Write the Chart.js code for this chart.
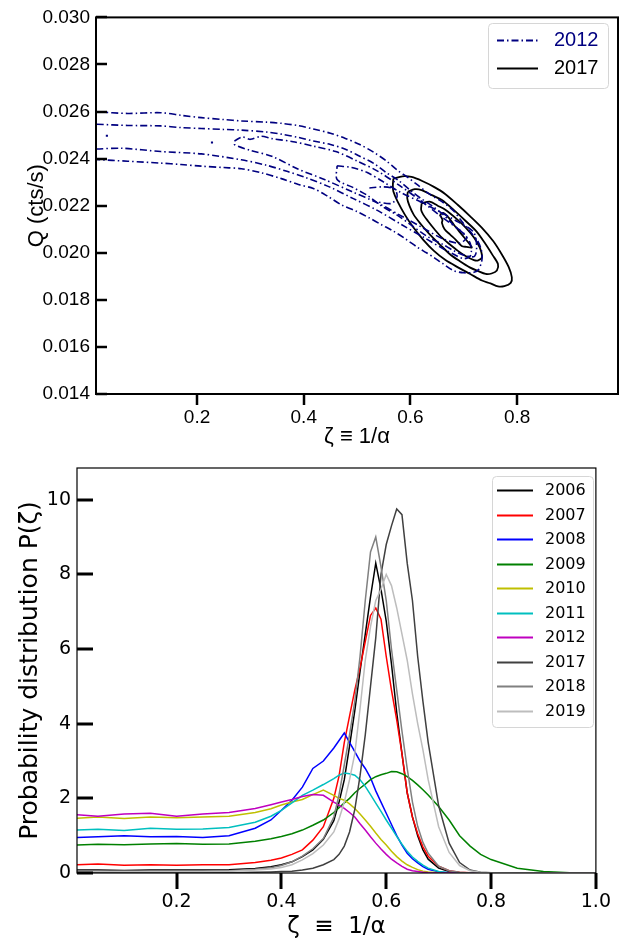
<!DOCTYPE html>
<html>
<head>
<meta charset="utf-8">
<script src="https://cdn.jsdelivr.net/npm/chart.js@4/dist/chart.umd.min.js"></script>
<style>
  body { margin: 0; background: #fff; }
  canvas { display: block; }
</style>
</head>
<body>
<canvas id="contourChart" width="629" height="450"></canvas>
<canvas id="histChart" width="629" height="490"></canvas>
<script>
// ---------- top panel: contours (zeta, Q) ----------
const topXTicks = [0.2, 0.4, 0.6, 0.8];
const topYTicks = [0.014, 0.016, 0.018, 0.020, 0.022, 0.024, 0.026, 0.028, 0.030];

// 2012 contours (dash-dot)
const c2012_lvl1 = [[0.012,0.02599],[0.07,0.02592],[0.132,0.02595],[0.17,0.02584],[0.208,0.02574],[0.25,0.02566],[0.283,0.0256],[0.33,0.02555],[0.358,0.0255],[0.39,0.0254],[0.418,0.02526],[0.45,0.02508],[0.478,0.02486],[0.505,0.0246],[0.531,0.02427],[0.555,0.0239],[0.576,0.0235],[0.595,0.0232],[0.614,0.02287],[0.635,0.0225],[0.659,0.02217],[0.68,0.0218],[0.696,0.02134],[0.712,0.0209],[0.726,0.0205],[0.733,0.0201],[0.734,0.0197],[0.728,0.0193],[0.719,0.01917],[0.70,0.01915],[0.681,0.01924],[0.66,0.01955],[0.644,0.0198],[0.63,0.02],[0.614,0.02022],[0.59,0.0206],[0.568,0.02092],[0.545,0.0212],[0.523,0.02148],[0.50,0.02175],[0.471,0.02203],[0.445,0.0224],[0.418,0.02273],[0.39,0.0229],[0.358,0.02315],[0.32,0.0234],[0.283,0.02357],[0.25,0.02362],[0.208,0.02368],[0.17,0.02375],[0.132,0.02381],[0.07,0.02389],[0.012,0.02396]];
const c2012_lvl2 = [[0.012,0.02546],[0.07,0.02541],[0.132,0.02539],[0.17,0.02532],[0.208,0.02528],[0.25,0.02524],[0.283,0.02521],[0.33,0.02513],[0.358,0.02504],[0.39,0.0249],[0.418,0.02475],[0.45,0.0246],[0.478,0.0244],[0.505,0.0241],[0.531,0.0238],[0.555,0.0234],[0.576,0.0231],[0.60,0.02265],[0.62,0.0223],[0.64,0.022],[0.66,0.02165],[0.68,0.0212],[0.70,0.0208],[0.712,0.0204],[0.713,0.0199],[0.70,0.01975],[0.68,0.01995],[0.659,0.0202],[0.629,0.0206],[0.583,0.0212],[0.538,0.0218],[0.493,0.0223],[0.448,0.0228],[0.403,0.0232],[0.37,0.02345],[0.33,0.02372],[0.283,0.02395],[0.208,0.0242],[0.132,0.0243],[0.06,0.02444],[0.012,0.02441]];
const c2012_lvl3 = [[0.27,0.02475],[0.285,0.02492],[0.30,0.02482],[0.32,0.02495],[0.34,0.02485],[0.38,0.02472],[0.42,0.02452],[0.46,0.0243],[0.50,0.0239],[0.54,0.02345],[0.58,0.02285],[0.62,0.0222],[0.66,0.0215],[0.69,0.021],[0.705,0.0207],[0.70,0.0205],[0.69,0.0204],[0.66,0.0206],[0.62,0.0211],[0.58,0.0216],[0.54,0.0221],[0.49,0.0226],[0.44,0.0231],[0.39,0.02355],[0.34,0.0241],[0.30,0.02435],[0.27,0.0246],[0.27,0.02475]];
const c2012_lvl4 = [[0.4625,0.0237],[0.49,0.02362],[0.519,0.02341],[0.55,0.023],[0.581,0.02257],[0.62,0.02215],[0.656,0.02173],[0.69,0.0213],[0.718,0.02089],[0.724,0.0203],[0.72,0.01985],[0.70,0.0199],[0.68,0.0201],[0.661,0.02035],[0.631,0.0207],[0.60,0.0212],[0.575,0.0216],[0.545,0.022],[0.519,0.02244],[0.49,0.0228],[0.4625,0.02311],[0.4625,0.0237]];
const c2012_blob = [[0.523,0.02275],[0.55,0.0228],[0.57,0.0227],[0.575,0.0224],[0.565,0.0221],[0.54,0.02215]];
const c2012_dotA = [[0.029,0.02497],[0.033,0.02497]];
const c2012_dotB = [[0.226,0.02469],[0.230,0.02469]];

// 2017 contours (solid)
const c2017_lvl1 = [[0.568,0.02315],[0.585,0.02325],[0.602,0.02322],[0.622,0.02305],[0.644,0.0228],[0.665,0.0225],[0.689,0.02203],[0.712,0.02155],[0.734,0.02106],[0.755,0.0205],[0.771,0.01994],[0.784,0.0194],[0.790,0.01896],[0.788,0.01872],[0.776,0.01858],[0.764,0.01857],[0.750,0.0187],[0.734,0.01882],[0.712,0.0191],[0.689,0.01938],[0.665,0.0197],[0.644,0.02008],[0.624,0.02055],[0.606,0.02106],[0.590,0.0216],[0.576,0.02217],[0.568,0.0226],[0.567,0.02287],[0.568,0.02315]];
const c2017_lvl2 = [[0.595,0.02259],[0.608,0.0227],[0.621,0.02266],[0.64,0.02245],[0.659,0.02224],[0.682,0.0218],[0.704,0.02134],[0.724,0.0209],[0.741,0.02036],[0.754,0.0199],[0.764,0.01952],[0.762,0.01925],[0.752,0.01912],[0.741,0.0191],[0.727,0.01922],[0.711,0.01938],[0.692,0.01965],[0.674,0.01994],[0.655,0.02035],[0.636,0.02078],[0.62,0.0212],[0.606,0.02162],[0.598,0.022],[0.594,0.02231],[0.595,0.02259]];
const c2017_lvl3 = [[0.621,0.0221],[0.636,0.02217],[0.651,0.022],[0.666,0.02182],[0.686,0.02145],[0.704,0.02106],[0.719,0.02065],[0.730,0.02022],[0.734,0.0198],[0.727,0.01968],[0.719,0.01969],[0.704,0.01985],[0.689,0.02008],[0.674,0.02035],[0.659,0.02064],[0.645,0.021],[0.633,0.02134],[0.624,0.02162],[0.620,0.02182],[0.621,0.0221]];
const c2017_lvl4 = [[0.655,0.02162],[0.662,0.02169],[0.672,0.02148],[0.681,0.0212],[0.696,0.02078],[0.711,0.02036],[0.715,0.02022],[0.705,0.02025],[0.696,0.02029],[0.685,0.02055],[0.674,0.02078],[0.664,0.021],[0.659,0.02127],[0.66,0.0214],[0.655,0.02162]];

// ---------- bottom panel: P(zeta) ----------
const zeta = [0.01,0.05,0.10,0.15,0.20,0.25,0.30,0.35,0.38,0.40,0.42,0.44,0.46,0.48,0.50,0.51,0.52,0.53,0.54,0.55,0.56,0.57,0.58,0.59,0.60,0.61,0.62,0.63,0.64,0.65,0.66,0.67,0.68,0.70,0.72,0.74,0.76,0.78,0.80,0.85,0.90,0.95,1.00];
const years = ['2006','2007','2008','2009','2010','2011','2012','2017','2018','2019'];
const p2006 = [0.08,0.08,0.07,0.08,0.08,0.08,0.09,0.12,0.17,0.22,0.30,0.44,0.62,0.90,1.40,1.90,2.50,3.40,4.35,5.40,6.40,7.40,8.30,7.60,6.75,5.60,4.30,3.20,2.15,1.50,1.00,0.62,0.37,0.13,0.04,0.01,0,0,0,0,0,0,0];
const p2007 = [0.22,0.24,0.21,0.22,0.21,0.22,0.22,0.28,0.34,0.40,0.50,0.62,0.88,1.24,2.00,2.60,3.50,4.20,4.90,5.50,6.20,6.90,7.10,6.80,5.80,4.90,4.10,3.20,2.15,1.50,1.05,0.70,0.45,0.18,0.06,0.02,0.01,0,0,0,0,0,0];
const p2008 = [0.95,0.97,1.00,0.97,0.98,0.95,1.00,1.20,1.42,1.68,1.95,2.30,2.80,3.00,3.35,3.55,3.75,3.50,3.25,3.00,2.80,2.55,2.20,1.90,1.60,1.30,1.00,0.75,0.53,0.38,0.27,0.17,0.10,0.03,0.01,0,0,0,0,0,0,0,0];
const p2009 = [0.75,0.77,0.76,0.78,0.79,0.77,0.78,0.85,0.92,0.98,1.05,1.15,1.28,1.42,1.62,1.75,1.88,2.00,2.15,2.27,2.38,2.50,2.58,2.63,2.67,2.72,2.71,2.66,2.58,2.48,2.36,2.23,2.09,1.78,1.42,1.00,0.72,0.50,0.36,0.13,0.04,0.01,0];
const p2010 = [1.47,1.50,1.46,1.50,1.48,1.50,1.52,1.62,1.72,1.82,1.90,1.97,2.10,2.22,2.08,2.00,1.95,1.85,1.73,1.58,1.42,1.25,1.07,0.90,0.75,0.58,0.44,0.32,0.22,0.15,0.09,0.05,0.03,0.01,0,0,0,0,0,0,0,0,0];
const p2011 = [1.15,1.17,1.14,1.20,1.17,1.18,1.22,1.36,1.52,1.68,1.88,2.08,2.22,2.37,2.53,2.62,2.68,2.66,2.62,2.50,2.32,2.10,1.87,1.65,1.42,1.20,0.98,0.77,0.58,0.43,0.31,0.21,0.13,0.04,0.01,0,0,0,0,0,0,0,0];
const p2012 = [1.56,1.52,1.58,1.60,1.52,1.58,1.62,1.73,1.83,1.90,1.97,2.05,2.10,2.08,1.90,1.82,1.73,1.62,1.50,1.32,1.15,0.97,0.80,0.64,0.50,0.37,0.27,0.18,0.10,0.06,0.04,0.02,0.01,0,0,0,0,0,0,0,0,0,0];
const p2017 = [0.01,0.01,0.01,0.01,0.01,0.01,0.01,0.02,0.03,0.04,0.05,0.08,0.13,0.22,0.36,0.50,0.72,1.10,1.70,2.60,3.70,5.00,6.30,8.00,8.80,9.30,9.75,9.60,8.30,7.30,5.80,4.60,3.50,1.80,0.80,0.28,0.08,0.02,0.01,0,0,0,0];
const p2018 = [0.05,0.05,0.05,0.05,0.05,0.05,0.06,0.10,0.14,0.20,0.30,0.45,0.65,0.92,1.50,2.10,2.90,3.70,4.60,5.80,7.30,8.60,9.00,8.20,7.30,6.00,4.90,3.80,2.80,1.90,1.25,0.82,0.53,0.18,0.06,0.02,0,0,0,0,0,0,0];
const p2019 = [0.04,0.04,0.04,0.04,0.04,0.04,0.05,0.08,0.11,0.15,0.22,0.35,0.52,0.75,1.10,1.45,1.90,2.50,3.20,4.40,5.70,6.60,7.30,7.60,8.00,7.70,7.10,6.40,5.70,4.80,4.00,3.30,2.50,1.24,0.55,0.20,0.06,0.02,0.01,0,0,0,0];
const botXTicks = [0.2, 0.4, 0.6, 0.8, 1.0];
const botYTicks = [0, 2, 4, 6, 8, 10];

// ---------- plugins ----------
// matplotlib-like frame + tick marks (positive length = outward)
const frameTicks = {
  id: 'frameTicks',
  afterDatasetsDraw(chart, args, o) {
    const { ctx, chartArea: a } = chart;
    const xs = chart.scales.x, ys = chart.scales.y;
    ctx.save();
    ctx.strokeStyle = '#000';
    ctx.lineWidth = o.frameWidth;
    ctx.strokeRect(a.left, a.top, a.right - a.left, a.bottom - a.top);
    ctx.lineWidth = o.tickWidth;
    xs.ticks.forEach(t => {
      const px = Math.round(xs.getPixelForValue(t.value));
      ctx.beginPath();
      ctx.moveTo(px, a.bottom);
      ctx.lineTo(px, a.bottom + o.xTickLen);
      ctx.stroke();
    });
    ys.ticks.forEach(t => {
      const py = Math.round(ys.getPixelForValue(t.value));
      ctx.beginPath();
      ctx.moveTo(a.left, py);
      ctx.lineTo(a.left - o.yTickLen, py);
      ctx.stroke();
    });
    ctx.restore();
  }
};

// legend box drawn inside the plot
const boxLegend = {
  id: 'boxLegend',
  afterDraw(chart, args, o) {
    const ctx = chart.ctx;
    ctx.save();
    ctx.fillStyle = 'rgba(255,255,255,0.85)';
    ctx.strokeStyle = '#d6d6d6';
    ctx.lineWidth = 1;
    ctx.beginPath();
    ctx.roundRect(o.x + 0.5, o.y + 0.5, o.w, o.h, 4);
    ctx.fill();
    ctx.stroke();
    ctx.font = o.font;
    ctx.textBaseline = 'middle';
    let row = 0;
    chart.data.datasets.forEach(ds => {
      if (!ds.label) return;
      const y = Math.round(o.y + o.first + row * o.step) + 0.5;
      ctx.strokeStyle = ds.borderColor;
      ctx.lineWidth = o.lineWidth;
      ctx.setLineDash(ds.borderDash || []);
      ctx.beginPath();
      ctx.moveTo(o.x + o.lineX0, y);
      ctx.lineTo(o.x + o.lineX1, y);
      ctx.stroke();
      ctx.setLineDash([]);
      ctx.fillStyle = o.colorText ? ds.borderColor : '#000';
      ctx.fillText(ds.label, o.x + o.textX, y);
      row++;
    });
    ctx.restore();
  }
};

// ---------- top chart ----------
const navy = '#000080';
const dashDot = [7, 3, 1.5, 3];
function contour(points, color, label, dash, width) {
  return {
    label: label,
    data: points.map(p => ({ x: p[0], y: p[1] })),
    showLine: true,
    borderColor: color,
    borderWidth: width,
    borderDash: dash,
    pointRadius: 0,
    tension: 0.3,
    fill: false
  };
}

new Chart(document.getElementById('contourChart'), {
  type: 'scatter',
  data: {
    datasets: [
      contour(c2012_lvl1, navy, '2012', dashDot, 1.6),
      contour(c2012_lvl2, navy, '', dashDot, 1.6),
      contour(c2012_lvl3, navy, '', dashDot, 1.6),
      contour(c2012_lvl4, navy, '', dashDot, 1.6),
      contour(c2012_blob, navy, '', dashDot, 1.6),
      contour(c2012_dotA, navy, '', [], 2),
      contour(c2012_dotB, navy, '', [], 2),
      contour(c2017_lvl1, '#000', '2017', [], 1.8),
      contour(c2017_lvl2, '#000', '', [], 1.8),
      contour(c2017_lvl3, '#000', '', [], 1.8),
      contour(c2017_lvl4, '#000', '', [], 1.8)
    ]
  },
  options: {
    responsive: false,
    animation: false,
    layout: { padding: { top: 13, right: 11, left: 0, bottom: 0 } },
    plugins: {
      legend: { display: false },
      tooltip: { enabled: false },
      frameTicks: { frameWidth: 2, tickWidth: 2.5, xTickLen: 11, yTickLen: -11 },
      boxLegend: {
        x: 488, y: 23, w: 120, h: 65, first: 17, step: 28,
        lineX0: 9, lineX1: 50, textX: 66, lineWidth: 2,
        font: '20px "Liberation Sans", Arial, sans-serif', colorText: true
      }
    },
    scales: {
      x: {
        type: 'linear', min: 0.0106, max: 0.989,
        grid: { display: false, drawTicks: false },
        border: { display: false },
        afterBuildTicks: s => { s.ticks = topXTicks.map(v => ({ value: v })); },
        afterFit: s => { s.height = 56; },
        ticks: {
          padding: 12, color: '#000', maxRotation: 0,
          font: { family: '"Liberation Sans", Arial, sans-serif', size: 19 },
          callback: v => v.toFixed(1)
        },
        title: {
          display: true, text: 'ζ ≡ 1/α', color: '#000',
          font: { family: '"Liberation Sans", "DejaVu Sans", sans-serif', size: 22, lineHeight: 1 },
          padding: { top: 0, bottom: 2 }
        }
      },
      y: {
        type: 'linear', min: 0.014, max: 0.030,
        grid: { display: false, drawTicks: false },
        border: { display: false },
        afterBuildTicks: s => { s.ticks = topYTicks.map(v => ({ value: v })); },
        afterFit: s => { s.width = 96; },
        ticks: {
          padding: 6, color: '#000',
          font: { family: '"Liberation Sans", Arial, sans-serif', size: 19 },
          callback: v => v.toFixed(3)
        },
        title: {
          display: true, text: 'Q (cts/s)', color: '#000',
          font: { family: '"Liberation Sans", Arial, sans-serif', size: 22, lineHeight: 1 },
          padding: { top: 26, bottom: 0 }
        }
      }
    }
  },
  plugins: [frameTicks, boxLegend]
});

// ---------- bottom chart ----------
const yearColors = ['#000000', '#ff0000', '#0000ff', '#008000', '#bfbf00', '#00bfbf', '#bf00bf', '#404040', '#808080', '#bdbdbd'];
const yearValues = [p2006, p2007, p2008, p2009, p2010, p2011, p2012, p2017, p2018, p2019];

new Chart(document.getElementById('histChart'), {
  type: 'line',
  data: {
    datasets: years.map((yr, i) => ({
      label: yr,
      data: zeta.map((z, k) => ({ x: z, y: yearValues[i][k] })),
      borderColor: yearColors[i],
      borderWidth: 1.5,
      pointRadius: 0,
      tension: 0,
      fill: false,
      order: -i
    }))
  },
  options: {
    responsive: false,
    animation: false,
    layout: { padding: { top: 18, right: 26, left: 0, bottom: 0 } },
    plugins: {
      legend: { display: false },
      tooltip: { enabled: false },
      frameTicks: { frameWidth: 1.2, tickWidth: 3, xTickLen: 16, yTickLen: -16 },
      boxLegend: {
        x: 492, y: 26, w: 101, h: 251, first: 14, step: 24.55,
        lineX0: 5, lineX1: 41, textX: 53, lineWidth: 2,
        font: '16px "DejaVu Sans", sans-serif', colorText: false
      }
    },
    scales: {
      x: {
        type: 'linear', min: 0.01, max: 1.0,
        grid: { display: false, drawTicks: false },
        border: { display: false },
        afterBuildTicks: s => { s.ticks = botXTicks.map(v => ({ value: v })); },
        afterFit: s => { s.height = 67; },
        ticks: {
          padding: 18, color: '#000', maxRotation: 0,
          font: { family: '"DejaVu Sans", sans-serif', size: 19 },
          callback: v => v.toFixed(1)
        },
        title: {
          display: true, text: 'ζ  ≡  1/α', color: '#000',
          font: { family: '"DejaVu Sans", sans-serif', size: 23, lineHeight: 1 },
          padding: { top: 0, bottom: 1 }
        }
      },
      y: {
        type: 'linear', min: 0, max: 10.85,
        grid: { display: false, drawTicks: false },
        border: { display: false },
        afterBuildTicks: s => { s.ticks = botYTicks.map(v => ({ value: v })); },
        afterFit: s => { s.width = 77; },
        ticks: {
          padding: 6, color: '#000',
          font: { family: '"DejaVu Sans", sans-serif', size: 19 },
          callback: v => String(v)
        },
        title: {
          display: true, text: 'Probability distribution P(ζ)', color: '#000',
          font: { family: '"DejaVu Sans", sans-serif', size: 25, lineHeight: 1 },
          padding: { top: 18, bottom: 0 }
        }
      }
    }
  },
  plugins: [frameTicks, boxLegend]
});
</script>
</body>
</html>
